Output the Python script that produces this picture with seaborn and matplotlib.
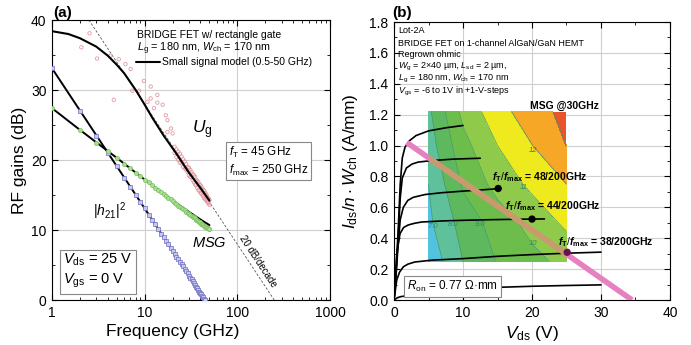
import matplotlib
matplotlib.use("Agg")
import matplotlib.pyplot as plt
import seaborn as sns
from matplotlib.patches import Rectangle
from matplotlib.ticker import FixedLocator, MultipleLocator, NullFormatter, FixedFormatter

# ---------------- panel (a) data ----------------
ug_model_f = [1, 1.5, 2, 3, 4, 5, 6, 8, 10, 12, 16, 22, 30, 40, 50]
ug_model_db = [38.4, 38.0, 37.4, 36.2, 34.9, 33.6, 32.4, 30.0, 27.9, 26.1, 23.5, 20.9, 18.2, 16.0, 14.2]

ug_meas_f = [2.07, 2.54, 3.06, 4.27, 4.64, 5.25, 6.2, 7.05, 7.35, 8.7, 9.8, 10.7, 11.6, 11.6,
             12.6, 13.7, 13.7, 15.6, 16.9, 17.6, 17.6, 19.2, 20.0,
             21, 21, 22, 22, 23, 23, 24, 24, 25, 25, 26, 26, 27, 27, 28, 28, 29, 29, 30, 30,
             31, 31, 32, 32, 33, 33, 34, 34, 35, 35, 36, 36, 37, 37, 38, 38, 39, 39, 40, 40,
             41, 41, 42, 42, 43, 43, 44, 44, 45, 45, 46, 46, 47, 47, 48, 48, 49, 49, 50, 50]
ug_meas_db = [36.1, 38.1, 34.5, 34.9, 28.6, 34.4, 33.7, 33.0, 29.9, 29.9, 31.3, 28.3, 30.5, 28.8,
              27.4, 29.3, 28.2, 27.9, 26.4, 25.7, 24.0, 24.5, 23.8,
              21.9, 21.0, 21.5, 20.4, 21.2, 20.0, 20.9, 19.6, 20.5, 19.5, 20.1, 19.0, 19.8, 18.8,
              19.4, 18.6, 19.0, 18.3, 18.9, 17.8, 18.6, 17.6, 18.3, 17.5, 18.0, 17.1, 17.8, 16.8,
              17.6, 16.5, 17.2, 16.4, 17.0, 16.0, 16.8, 15.7, 16.5, 15.6, 16.4, 15.3, 16.2, 15.2,
              15.9, 15.0, 15.7, 14.8, 15.6, 14.5, 15.3, 14.4, 15.1, 14.3, 14.9, 14.1, 14.6, 13.9,
              14.5, 13.8, 14.3, 13.6]

h21_f = [1, 2, 3, 4, 5, 6, 7, 8, 9, 10, 11, 12, 13, 14, 15, 16, 17, 18, 19, 20, 21, 22, 23,
         24, 25, 26, 27, 28, 29, 30, 31, 32, 33, 34, 35, 36, 37, 38, 39, 40, 41, 42, 43, 44, 45]
h21_db = [33.1, 27.0, 23.5, 21.0, 19.1, 17.5, 16.2, 15.0, 14.0, 13.1, 12.2, 11.5, 10.8, 10.1,
          9.5, 9.0, 8.5, 8.0, 7.5, 7.0, 6.6, 6.2, 5.8, 5.5, 5.1, 4.8, 4.4, 4.1, 3.8, 3.5, 3.2,
          3.0, 2.7, 2.4, 2.2, 1.9, 1.7, 1.5, 1.2, 1.0, 0.8, 0.6, 0.4, 0.2, 0.0]
h21_model_f = [1, 45]
h21_model_db = [33.1, 0.0]

msg_f = [1, 2, 3, 4, 5, 6, 7, 8, 9, 10, 11, 12, 13, 14, 15, 16, 17, 18, 19, 20, 21, 22, 23, 24,
         25, 26, 27, 28, 29, 30, 31, 32, 33, 34, 35, 36, 37, 38, 39, 40, 41, 42, 43, 44, 45, 46,
         47, 48, 49, 50]
msg_db = [27.4, 24.3, 22.5, 21.3, 20.3, 19.5, 18.8, 18.2, 17.7, 17.2, 16.8, 16.4, 16.0, 15.7,
          15.4, 15.1, 14.9, 14.6, 14.4, 14.1, 13.9, 13.7, 13.5, 13.3, 13.1, 13.0, 12.8, 12.6,
          12.5, 12.3, 12.2, 12.0, 11.9, 11.8, 11.7, 11.5, 11.4, 11.3, 11.2, 11.1, 10.9, 10.8,
          10.7, 10.6, 10.5, 10.4, 10.3, 10.3, 10.2, 10.1]
msg_model_f = [1, 2, 5, 10, 20, 30, 40, 50]
msg_model_db = [27.4, 24.3, 20.3, 17.2, 14.2, 12.6, 11.5, 10.7]

slope_f = [2.5, 250]
slope_db = [40.0, 0.0]

freq_ticks = [1, 10, 100, 1000]
freq_tick_labels = ["1", "10", "100", "1000"]

# ---------------- panel (b) data ----------------
iv_curves = {
    "0V": ([0, 0.3, 0.6, 0.9, 1.2, 1.6, 2.2, 3.2, 5.0, 7.5, 10.0],
           [0, 0.20, 0.45, 0.75, 0.92, 0.99, 1.03, 1.065, 1.095, 1.115, 1.13]),
    "-1V": ([0, 0.3, 0.6, 0.9, 1.2, 1.8, 2.6, 3.5, 5.5, 8.5, 12.5],
            [0, 0.18, 0.40, 0.66, 0.79, 0.855, 0.88, 0.893, 0.903, 0.912, 0.918]),
    "-2V": ([0, 0.3, 0.6, 0.9, 1.35, 2.0, 2.8, 4.5, 7.0, 10.0, 13.0, 15.5],
            [0, 0.16, 0.36, 0.52, 0.60, 0.645, 0.665, 0.683, 0.695, 0.705, 0.714, 0.722]),
    "-3V": ([0, 0.4, 0.87, 1.4, 2.07, 3.0, 4.0, 7.0, 10, 14, 18, 21.8],
            [0, 0.30, 0.43, 0.47, 0.486, 0.497, 0.505, 0.512, 0.516, 0.520, 0.523, 0.525]),
    "-4V": ([0, 0.4, 0.8, 1.35, 2.0, 3.0, 5.5, 10, 15, 20, 25, 30],
            [0, 0.13, 0.18, 0.215, 0.232, 0.246, 0.258, 0.268, 0.283, 0.294, 0.303, 0.310]),
    "-5V": ([0, 0.5, 1.0, 2.0, 3.0, 4.5, 8, 12, 15, 20, 25, 30],
            [0, 0.015, 0.022, 0.028, 0.031, 0.034, 0.05, 0.07, 0.082, 0.089, 0.094, 0.098]),
}
load_v = [1.84, 34.5]
load_i = [1.02, 0.0]
bias_v = [15.1, 20.0, 25.1]
bias_i = [0.722, 0.524, 0.309]
bias_labels = ["48/200GHz", "44/200GHz", "38/200GHz"]

msg_vds = [5, 10, 15, 20, 25]
msg_ids = [0.25, 0.5, 0.75, 1.0, 1.22]
msg_grid = [
    [6.3, 8.0, 9.06, 9.7, 10.3],
    [6.8, 8.4, 9.45, 10.36, 11.2],
    [7.0, 9.14, 10.36, 11.23, 12.0],
    [7.5, 9.67, 11.0, 11.98, 13.0],
    [7.8, 10.27, 11.63, 12.54, 13.3],
]
msg_levels = [5, 7, 8, 9, 10, 11, 12, 13, 14]
msg_colors = ["#52c2df", "#5fc09c", "#5db85e", "#6cbd4c", "#8fca4a", "#efea1d", "#f5a725", "#e8552b"]

# ---------------- style ----------------
sns.set_theme(style="ticks")
plt.rcParams.update({
    "font.family": ["Liberation Sans", "DejaVu Sans"],
    "mathtext.fontset": "custom",
    "mathtext.rm": "Liberation Sans",
    "mathtext.it": "Liberation Sans:italic",
    "mathtext.bf": "Liberation Sans:bold",
    "mathtext.bfit": "Liberation Sans:italic:bold",
    "axes.edgecolor": "black",
    "axes.linewidth": 0.8,
    "xtick.color": "black",
    "ytick.color": "black",
    "text.color": "black",
    "axes.labelcolor": "black",
})

fig = plt.figure(figsize=(6.91, 3.45), dpi=100)
ax1 = fig.add_axes([0.0753, 0.1304, 0.4023, 0.8116])
ax2 = fig.add_axes([0.5702, 0.1304, 0.3994, 0.8058])


def style_ticks(ax):
    ax.tick_params(which="both", direction="in", top=True, right=True, labelsize=10)
    ax.tick_params(which="major", length=4, width=0.8, pad=4)
    ax.tick_params(which="minor", length=2, width=0.6)
    ax.grid(True, which="major", color="#cfcfcf", lw=0.8)
    ax.set_axisbelow(True)
    for s in ax.spines.values():
        s.set_visible(True)
        s.set_color("black")
        s.set_linewidth(0.8)


# ---------------- panel (a) ----------------
ax = ax1
ax.set_xscale("log")
sns.lineplot(x=slope_f, y=slope_db, ax=ax, color="#555555", lw=0.6, estimator=None, sort=False,
             dashes=False, zorder=2).lines[-1].set_dashes([3, 2])
sns.lineplot(x=h21_model_f, y=h21_model_db, ax=ax, color="black", lw=1.4, estimator=None, sort=False, zorder=3)
sns.scatterplot(x=h21_f, y=h21_db, ax=ax, marker="s", s=5, color="#c8c8ee", edgecolor="#6c6cc2",
                linewidth=0.5, zorder=4)
sns.lineplot(x=msg_model_f, y=msg_model_db, ax=ax, color="black", lw=1.4, estimator=None, sort=False, zorder=3)
sns.scatterplot(x=msg_f, y=msg_db, ax=ax, marker="o", s=9, color="#aadd92", edgecolor="#78c260",
                linewidth=0.5, zorder=4)
sns.scatterplot(x=ug_meas_f, y=ug_meas_db, ax=ax, marker="o", s=6, facecolor="none",
                edgecolor="#e39aa2", linewidth=0.6, zorder=4)
sns.lineplot(x=ug_model_f, y=ug_model_db, ax=ax, color="black", lw=1.5, estimator=None, sort=False, zorder=5)

ax.set_xlim(1, 1000)
ax.set_ylim(0, 40)
ax.xaxis.set_major_locator(FixedLocator(freq_ticks))
ax.xaxis.set_major_formatter(FixedFormatter(freq_tick_labels))
ax.xaxis.set_minor_locator(FixedLocator([m * d for d in (1, 10, 100) for m in range(2, 10)]))
ax.xaxis.set_minor_formatter(NullFormatter())
ax.yaxis.set_major_locator(MultipleLocator(10))
ax.yaxis.set_minor_locator(MultipleLocator(5))
style_ticks(ax)
ax.set_xlabel("Frequency (GHz)", fontsize=12.5)
ax.set_ylabel("RF gains (dB)", fontsize=12.5)
ax.xaxis.set_label_coords(0.435, -0.085)
ax.yaxis.set_label_coords(-0.09, 0.5)

ax.text(0.306, 0.946, "BRIDGE FET w/ rectangle gate", transform=ax.transAxes, fontsize=7.5, va="center")
ax.text(0.306, 0.896, r"$L_\mathrm{g}$ = 180 nm, $W_\mathrm{ch}$ = 170 nm", transform=ax.transAxes,
        fontsize=7.8, va="center")
ax.plot([0.302, 0.388], [0.85, 0.85], transform=ax.transAxes, color="black", lw=1.5)
ax.text(0.396, 0.85, "Small signal model (0.5-50 GHz)", transform=ax.transAxes, fontsize=7.5, va="center")
ax.text(0.504, 0.607, r"$U_\mathrm{g}$", transform=ax.transAxes, fontsize=12.5, va="center")
ax.text(0.635, 0.495, r"$f_\mathrm{T}$ = 45 GHz" + "\n" + r"$f_\mathrm{max}$ = 250 GHz",
        transform=ax.transAxes, fontsize=8.4, va="center", linespacing=1.25,
        bbox=dict(boxstyle="square,pad=0.22", fc="white", ec="#888888", lw=0.8))
ax.text(0.147, 0.318, r"$|h_{21}|^2$", transform=ax.transAxes, fontsize=10, va="center")
ax.text(0.504, 0.204, r"$MSG$", transform=ax.transAxes, fontsize=10.5, va="center")
ax.text(0.04, 0.104, r"$V_\mathrm{ds}$ = 25 V" + "\n" + r"$V_\mathrm{gs}$ = 0 V",
        transform=ax.transAxes, fontsize=10.5, va="center", linespacing=1.35,
        bbox=dict(boxstyle="square,pad=0.25", fc="white", ec="#888888", lw=0.8))
ax.text(165, 5.5, "20 dB/decade", fontsize=7, rotation=-56.7, ha="center", va="center",
        rotation_mode="anchor")

# ---------------- panel (b) ----------------
ax = ax2
style_ticks(ax)
ax.contourf(msg_vds, msg_ids, msg_grid, levels=msg_levels, colors=msg_colors, zorder=1)
ax.contour(msg_vds, msg_ids, msg_grid, levels=msg_levels[1:-1], colors="#3f9c78", linewidths=0.5, zorder=1.2)

for name, (vv, ii) in iv_curves.items():
    sns.lineplot(x=vv, y=ii, ax=ax, color="black", lw=1.2, estimator=None, sort=False, zorder=2)

sns.lineplot(x=load_v, y=load_i, ax=ax, color="#e680c2", lw=4, estimator=None, sort=False, zorder=3)
ax.lines[-1].set_solid_capstyle("butt")
sns.lineplot(x=load_v, y=load_i, ax=ax, color="#c99a6c", lw=4, estimator=None, sort=False, zorder=3.1)
clip = Rectangle((5, 0.25), 20, 0.97, transform=ax.transData)
ax.lines[-1].set_clip_path(clip)
ax.lines[-1].set_solid_capstyle("butt")

sns.scatterplot(x=bias_v, y=bias_i, ax=ax, s=28, hue=bias_labels,
                palette=["black", "black", "#6a1250"], edgecolor="none", legend=False, zorder=4)

ax.set_xlim(0, 40)
ax.set_ylim(0, 1.8)
ax.xaxis.set_major_locator(MultipleLocator(10))
ax.xaxis.set_minor_locator(MultipleLocator(5))
ax.yaxis.set_major_locator(MultipleLocator(0.2))
ax.yaxis.set_minor_locator(MultipleLocator(0.1))
ax.yaxis.set_major_formatter(plt.FuncFormatter(lambda v, p: f"{v:.1f}"))
style_ticks(ax)
ax.set_xlabel(r"$V_\mathrm{ds}$ (V)", fontsize=12.5)
ax.set_ylabel(r"$I_\mathrm{ds}/n\cdot W_\mathrm{ch}$ (A/mm)", fontsize=12.5)
ax.xaxis.set_label_coords(0.5, -0.085)
ax.yaxis.set_label_coords(-0.125, 0.5)

info_lines = ["Lot-2A", "BRIDGE FET on 1-channel AlGaN/GaN HEMT", "Regrown ohmic",
              r"$W_\mathrm{g}$ = 2×40 µm, $L_\mathrm{sd}$ = 2 µm,",
              r"$L_\mathrm{g}$ = 180 nm, $W_\mathrm{ch}$ = 170 nm",
              r"$V_\mathrm{gs}$ = -6 to 1V in +1-V-steps"]
info_y = [1.742, 1.664, 1.59, 1.512, 1.432, 1.352]
for t, yy in zip(info_lines, info_y):
    ax.text(0.6, yy, t, fontsize=6.5, va="center", zorder=5)

ax.text(19.7, 1.256, "MSG @30GHz", fontsize=7.5, fontweight="bold", va="center", zorder=5)
lab_pos = [(14.2, 0.797), (16.1, 0.609), (23.8, 0.376)]
for (xx, yy), lab in zip(lab_pos, bias_labels):
    ax.text(xx, yy, r"$\mathbfit{f}_\mathbf{T}/\mathbfit{f}_\mathbf{max}$ = " + lab,
            fontsize=7.5, fontweight="bold", va="center", zorder=5)
ax.text(1.9, 0.09, r"$R_\mathrm{on}$ = 0.77 Ω·mm", fontsize=8.5, va="center", zorder=5,
        bbox=dict(boxstyle="square,pad=0.25", fc="white", ec="#888888", lw=0.8))

contour_labels = [("7.0", 5.65, 0.473), ("8.0", 8.55, 0.486), ("9.0", 12.5, 0.486),
                  ("10", 20.1, 0.363), ("11", 18.8, 0.73), ("12", 20.1, 0.97)]
for t, xx, yy in contour_labels:
    ax.text(xx, yy, t, fontsize=5.5, style="italic", ha="center", va="center",
            color="#8a5a10" if t == "12" else "#2f8a62", zorder=4)

fig.text(0.0767, 0.962, "(a)", fontsize=11, fontweight="bold", va="center")
fig.text(0.567, 0.962, "(b)", fontsize=11, fontweight="bold", va="center")

fig.savefig("out.png", dpi=100)
